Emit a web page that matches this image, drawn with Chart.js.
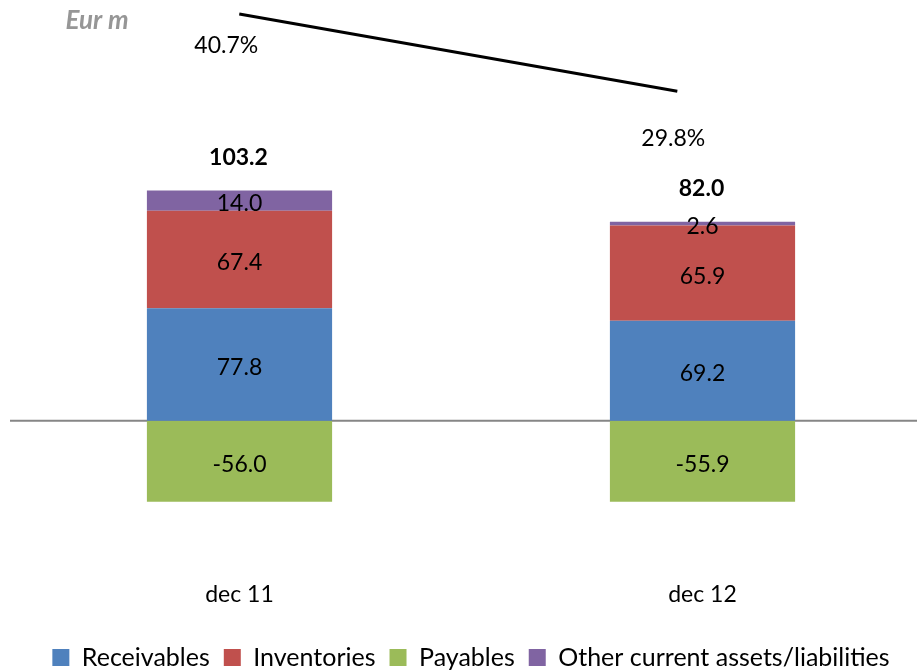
<!DOCTYPE html>
<html>
<head>
<meta charset="utf-8">
<script src="https://cdn.jsdelivr.net/npm/chart.js@4/dist/chart.umd.min.js"></script>
<style>
  html, body { margin: 0; padding: 0; background: #fff; overflow: hidden; }
  #wrap { width: 917px; height: 670px; overflow: hidden; }
</style>
</head>
<body>
<div id="wrap"><canvas id="chart" width="945" height="670"></canvas></div>
<script>
// data
const periods = ["dec 11", "dec 12"];
const receivables = [77.8, 69.2];
const inventories = [67.4, 65.9];
const payables = [-56.0, -55.9];
const otherItems = [14.0, 2.6];
const netTotals = [103.2, 82.0];
const ratioPct = [40.7, 29.8];

const FONT = "Lato, 'Open Sans', sans-serif";

// labels inside bars, totals above the stacks, percentages under the line
const labelsPlugin = {
  id: "labels",
  afterDatasetsDraw(chart) {
    const ctx = chart.ctx;
    ctx.save();
    ctx.textAlign = "center";
    ctx.textBaseline = "middle";
    ctx.fillStyle = "#000";
    ctx.font = "23px " + FONT;
    [0, 1, 2, 3].forEach((di) => {
      const meta = chart.getDatasetMeta(di);
      meta.data.forEach((bar, i) => {
        const v = chart.data.datasets[di].data[i];
        ctx.fillText(v.toFixed(1), bar.x, (bar.y + bar.base) / 2 + 3);
      });
    });

    // totals above the purple segment
    ctx.font = "bold 23px " + FONT;
    const top = chart.getDatasetMeta(3);
    top.data.forEach((bar, i) => {
      ctx.fillText(netTotals[i].toFixed(1), bar.x - 1, bar.y - 33);
    });

    // percentages
    ctx.font = "23px " + FONT;
    const line = chart.getDatasetMeta(4);
    line.data.forEach((pt, i) => {
      ctx.fillText(ratioPct[i].toFixed(1) + "%", pt.x - 13 + 9 * i, pt.y + 32 + 15 * i);
    });

    // unit label
    ctx.fillStyle = "#969696";
    ctx.font = "italic bold 26px " + FONT;
    ctx.fillText("Eur m", 97, 21);
    ctx.restore();
  }
};

// grey zero line across the plot
const zeroLine = {
  id: "zeroLine",
  beforeDatasetsDraw(chart) {
    const { ctx, chartArea, scales } = chart;
    const y = scales.y.getPixelForValue(0);
    ctx.save();
    ctx.strokeStyle = "#868686";
    ctx.lineWidth = 2;
    ctx.beginPath();
    ctx.moveTo(chartArea.left + 2, y);
    ctx.lineTo(chartArea.right, y);
    ctx.stroke();
    ctx.restore();
  }
};

new Chart(document.getElementById("chart"), {
  type: "bar",
  data: {
    labels: periods,
    datasets: [
      { label: "Receivables", data: receivables, backgroundColor: "#4F81BD" },
      { label: "Inventories", data: inventories, backgroundColor: "#C0504D" },
      { label: "Payables", data: payables, backgroundColor: "#9BBB59" },
      { label: "Other current assets/liabilities", data: otherItems, backgroundColor: "#8064A2" },
      {
        type: "line",
        label: "ratio",
        data: ratioPct.map((v, i) => ({ x: i, y: v })),
        xAxisID: "x2",
        yAxisID: "y1",
        borderColor: "#000",
        borderWidth: 3,
        pointRadius: 0,
        fill: false
      }
    ]
  },
  options: {
    responsive: false,
    animation: false,
    layout: { padding: { left: 8, right: 11, top: 2, bottom: -10 } },
    datasets: { bar: { barPercentage: 0.4, categoryPercentage: 1, grouped: false } },
    scales: {
      x: {
        stacked: true,
        grid: { display: false },
        border: { display: false },
        ticks: { color: "#000", font: { size: 23, family: FONT }, padding: 23 }
      },
      x2: { type: "linear", display: false, offset: false, min: -0.528, max: 1.586 },
      y: { stacked: true, display: false, min: -88.9, max: 289.6 },
      y1: { display: false, min: -34.8, max: 42.4 }
    },
    plugins: {
      legend: {
        position: "bottom",
        labels: {
          filter: (item) => item.datasetIndex < 4,
          color: "#000",
          font: { size: 25, family: FONT },
          boxWidth: 17,
          boxHeight: 17,
          padding: 14
        }
      },
      tooltip: { enabled: false }
    }
  },
  plugins: [zeroLine, labelsPlugin]
});
</script>
</body>
</html>
